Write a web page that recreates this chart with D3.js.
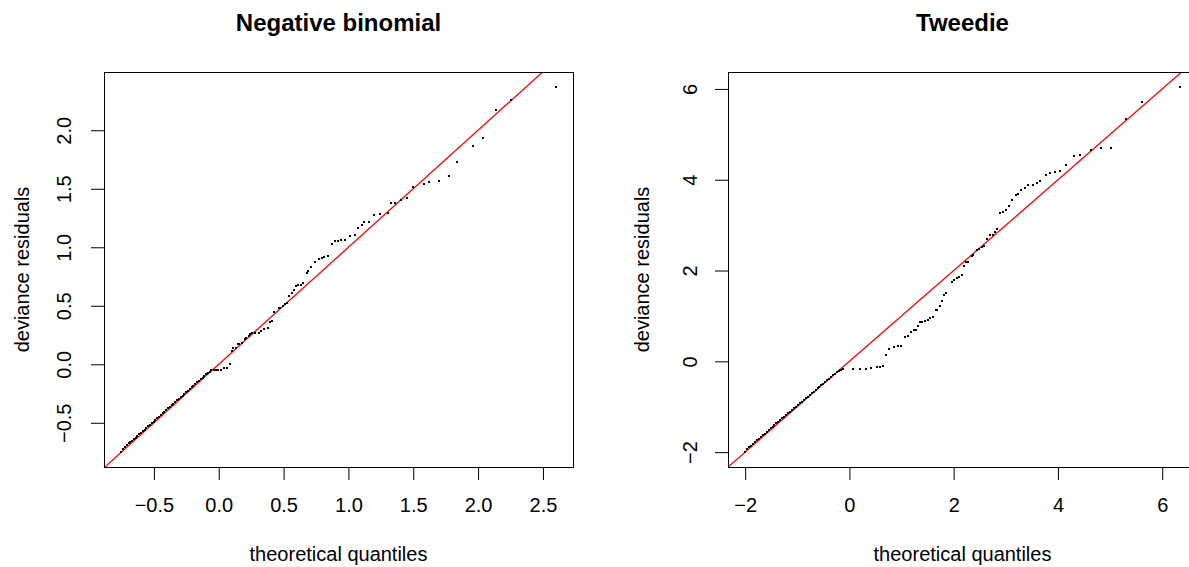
<!DOCTYPE html>
<html>
<head>
<meta charset="utf-8">
<script src="https://cdn.jsdelivr.net/npm/d3@7"></script>
<style>
  html, body { margin: 0; padding: 0; background: #fff; overflow: hidden; }
  svg { display: block; font-family: "Liberation Sans", Arial, sans-serif; }
</style>
</head>
<body>
<svg id="chart" width="1189" height="567"></svg>
<script>
// [theoretical quantile, deviance residual]
const nbQQ = [
  [-0.751,-0.753],[-0.735,-0.722],[-0.722,-0.705],[-0.708,-0.690],[-0.695,-0.676],[-0.682,-0.664],
  [-0.668,-0.652],[-0.655,-0.640],[-0.641,-0.627],[-0.628,-0.614],[-0.614,-0.600],[-0.600,-0.586],
  [-0.586,-0.572],[-0.572,-0.559],[-0.558,-0.545],[-0.545,-0.531],[-0.531,-0.518],[-0.517,-0.504],
  [-0.503,-0.490],[-0.489,-0.476],[-0.475,-0.463],[-0.461,-0.449],[-0.447,-0.434],[-0.433,-0.420],
  [-0.419,-0.406],[-0.405,-0.392],[-0.391,-0.378],[-0.377,-0.364],[-0.363,-0.350],[-0.349,-0.336],
  [-0.335,-0.322],[-0.321,-0.308],[-0.307,-0.294],[-0.293,-0.281],[-0.279,-0.267],[-0.265,-0.253],
  [-0.251,-0.239],[-0.237,-0.225],[-0.223,-0.211],[-0.209,-0.197],[-0.195,-0.183],[-0.181,-0.169],
  [-0.167,-0.155],[-0.153,-0.141],[-0.139,-0.127],[-0.125,-0.114],[-0.111,-0.100],[-0.097,-0.087],
  [-0.083,-0.074],[-0.069,-0.062],[-0.056,-0.050],
  [-0.039,-0.047],[-0.018,-0.047],[-0.005,-0.047],[0.021,-0.045],[0.039,-0.036],[0.064,-0.030],[0.085,0.003],
  [0.100,0.114],[0.110,0.142],[0.131,0.142],[0.149,0.174],[0.157,0.174],[0.183,0.185],[0.201,0.216],
  [0.213,0.225],[0.231,0.239],[0.244,0.256],[0.260,0.265],[0.283,0.270],[0.309,0.270],[0.324,0.287],
  [0.347,0.304],[0.376,0.313],[0.399,0.362],[0.409,0.373],[0.424,0.447],[0.461,0.481],[0.476,0.481],
  [0.496,0.498],[0.509,0.515],[0.530,0.527],[0.545,0.584],[0.563,0.612],[0.579,0.635],[0.599,0.669],
  [0.615,0.675],[0.638,0.678],[0.653,0.698],[0.677,0.783],[0.692,0.797],[0.710,0.832],[0.746,0.874],
  [0.772,0.900],[0.795,0.911],[0.813,0.920],[0.846,0.928],[0.877,1.028],[0.895,1.054],[0.916,1.056],
  [0.941,1.065],[0.977,1.065],[1.011,1.099],[1.054,1.108],[1.072,1.168],[1.101,1.193],[1.124,1.216],
  [1.155,1.219],[1.196,1.273],[1.242,1.282],[1.302,1.291],[1.325,1.376],[1.358,1.382],[1.407,1.408],
  [1.451,1.419],[1.497,1.519],[1.582,1.544],[1.620,1.556],[1.698,1.570],[1.775,1.607],[1.836,1.725],
  [1.960,1.862],[2.037,1.930],[2.137,2.177],[2.253,2.262],[2.598,2.373]
];

const twQQ = [
  [-1.996,-2.005],[-1.960,-1.935],[-1.925,-1.895],[-1.890,-1.858],[-1.850,-1.815],[-1.812,-1.778],
  [-1.775,-1.742],[-1.738,-1.703],[-1.700,-1.664],[-1.662,-1.628],[-1.625,-1.590],[-1.588,-1.553],
  [-1.550,-1.515],[-1.512,-1.478],[-1.475,-1.440],[-1.438,-1.405],[-1.400,-1.368],[-1.362,-1.330],
  [-1.325,-1.293],[-1.288,-1.257],[-1.250,-1.220],[-1.212,-1.183],[-1.175,-1.146],[-1.138,-1.110],
  [-1.100,-1.073],[-1.062,-1.036],[-1.025,-1.000],[-0.988,-0.963],[-0.950,-0.927],[-0.912,-0.890],
  [-0.875,-0.854],[-0.838,-0.818],[-0.800,-0.781],[-0.762,-0.745],[-0.725,-0.708],[-0.688,-0.672],
  [-0.650,-0.635],[-0.612,-0.598],[-0.575,-0.562],[-0.538,-0.526],[-0.500,-0.490],[-0.462,-0.452],
  [-0.425,-0.416],[-0.388,-0.380],[-0.350,-0.343],[-0.312,-0.306],[-0.275,-0.270],[-0.238,-0.234],
  [-0.205,-0.205],[-0.180,-0.188],[-0.155,-0.180],[-0.128,-0.176],
  [0.077,-0.176],[0.205,-0.176],[0.320,-0.176],[0.422,-0.147],[0.524,-0.132],[0.589,-0.132],[0.647,-0.103],
  [0.710,0.132],[0.768,0.265],[0.864,0.316],[0.928,0.338],[0.998,0.338],[1.075,0.529],[1.132,0.559],
  [1.190,0.640],[1.248,0.684],[1.286,0.684],[1.324,0.779],[1.357,0.860],[1.401,0.860],[1.459,0.890],
  [1.516,0.912],[1.555,0.963],[1.612,0.985],[1.664,1.125],[1.689,1.125],[1.734,1.213],[1.785,1.331],
  [1.823,1.463],[1.862,1.507],[1.977,1.743],[2.015,1.794],[2.073,1.838],[2.111,1.860],[2.150,1.897],
  [2.201,2.096],[2.239,2.184],[2.284,2.199],[2.342,2.323],[2.374,2.345],[2.444,2.463],[2.482,2.477],
  [2.534,2.522],[2.585,2.544],[2.630,2.691],[2.687,2.780],[2.745,2.786],[2.783,2.853],[2.835,2.912],
  [2.892,3.272],[2.950,3.294],[2.994,3.331],[3.052,3.419],[3.109,3.552],[3.199,3.662],[3.238,3.684],
  [3.295,3.772],[3.372,3.823],[3.430,3.890],[3.526,3.890],[3.589,3.927],[3.660,3.971],[3.762,4.110],
  [3.852,4.147],[3.935,4.169],[4.044,4.191],[4.159,4.330],[4.299,4.529],[4.428,4.551],[4.639,4.655],
  [4.831,4.699],[5.023,4.699],[5.311,5.339],[5.618,5.720],[6.334,6.051]
];

const nbXTicks = [-0.5, 0, 0.5, 1, 1.5, 2, 2.5];
const nbYTicks = [-0.5, 0, 0.5, 1, 1.5, 2];
const twXTicks = [-2, 0, 2, 4, 6];
const twYTicks = [-2, 0, 2, 4, 6];

const svg = d3.select('#chart');
svg.append('rect').attr('width', 1189).attr('height', 567).attr('fill', '#fff');

// R-style axis range: data extent padded by 4% each side
function padded(ext) {
    const r = ext[1] - ext[0];
    return [ext[0] - 0.04 * r, ext[1] + 0.04 * r];
}

function drawPanel(id, data, o) {
    const x = d3.scaleLinear().domain(padded(d3.extent(data, d => d[0]))).range([o.left, o.right]);
    const y = d3.scaleLinear().domain(padded(d3.extent(data, d => d[1]))).range([o.bottom, o.top]);
    const g = svg.append('g');

    g.append('clipPath').attr('id', 'clip-' + id)
        .append('rect')
        .attr('x', o.left).attr('y', o.top)
        .attr('width', o.right - o.left).attr('height', o.bottom - o.top);

    // reference line y = x
    const lo = Math.min(x.domain()[0], y.domain()[0]);
    const hi = Math.max(x.domain()[1], y.domain()[1]);
    g.append('line')
        .attr('clip-path', `url(#clip-${id})`)
        .attr('x1', x(lo)).attr('y1', y(lo))
        .attr('x2', x(hi)).attr('y2', y(hi))
        .attr('stroke', '#ff0000')
        .attr('stroke-width', 1.3);

    g.append('g').selectAll('rect')
        .data(data)
        .join('rect')
        .attr('x', d => Math.round(x(d[0])) - 1)
        .attr('y', d => Math.round(y(d[1])) - 1)
        .attr('width', 2)
        .attr('height', 2)
        .attr('fill', '#000')
        .attr('shape-rendering', 'crispEdges');

    // x axis
    const ax = g.append('g')
        .attr('transform', `translate(0,${o.bottom})`)
        .call(d3.axisBottom(x).tickValues(o.xTicks).tickFormat(d3.format(o.fmt)).tickSize(13).tickPadding(18));
    // y axis, labels turned like R's default las = 0
    const ay = g.append('g')
        .attr('transform', `translate(${o.left},0)`)
        .call(d3.axisLeft(y).tickValues(o.yTicks).tickFormat(d3.format(o.fmt)).tickSize(13));
    ay.selectAll('text')
        .attr('x', null).attr('dy', null)
        .attr('text-anchor', 'middle')
        .attr('transform', `translate(${-o.yLab},0) rotate(-90)`);

    [ax, ay].forEach(a => {
        a.select('.domain').remove();
        a.selectAll('line').attr('stroke', '#000');
        a.selectAll('text').attr('fill', '#000').style('font-size', '20px')
            .style('font-family', '"Liberation Sans", Arial, sans-serif');
    });

    g.append('rect')
        .attr('x', o.left + 0.5).attr('y', o.top + 0.5)
        .attr('width', o.right - o.left).attr('height', o.bottom - o.top)
        .attr('fill', 'none')
        .attr('stroke', '#000');

    const cx = (o.left + o.right) / 2;
    g.append('text')
        .attr('x', cx).attr('y', 31)
        .attr('text-anchor', 'middle')
        .style('font-size', '24px').style('font-weight', 'bold')
        .text(o.title);
    g.append('text')
        .attr('x', cx).attr('y', 561)
        .attr('text-anchor', 'middle')
        .style('font-size', '20px')
        .text('theoretical quantiles');
    g.append('text')
        .attr('transform', `translate(${o.left - o.yTitle},${(o.top + o.bottom) / 2}) rotate(-90)`)
        .attr('text-anchor', 'middle')
        .style('font-size', '20px')
        .text('deviance residuals');
}

drawPanel('nb', nbQQ, {
    title: 'Negative binomial', left: 104, right: 573, top: 72, bottom: 467,
    xTicks: nbXTicks, yTicks: nbYTicks, fmt: '.1f', yLab: 33, yTitle: 75
});
drawPanel('tw', twQQ, {
    title: 'Tweedie', left: 728, right: 1197, top: 72, bottom: 467,
    xTicks: twXTicks, yTicks: twYTicks, fmt: 'd', yLab: 31, yTitle: 79
});
</script>
</body>
</html>
